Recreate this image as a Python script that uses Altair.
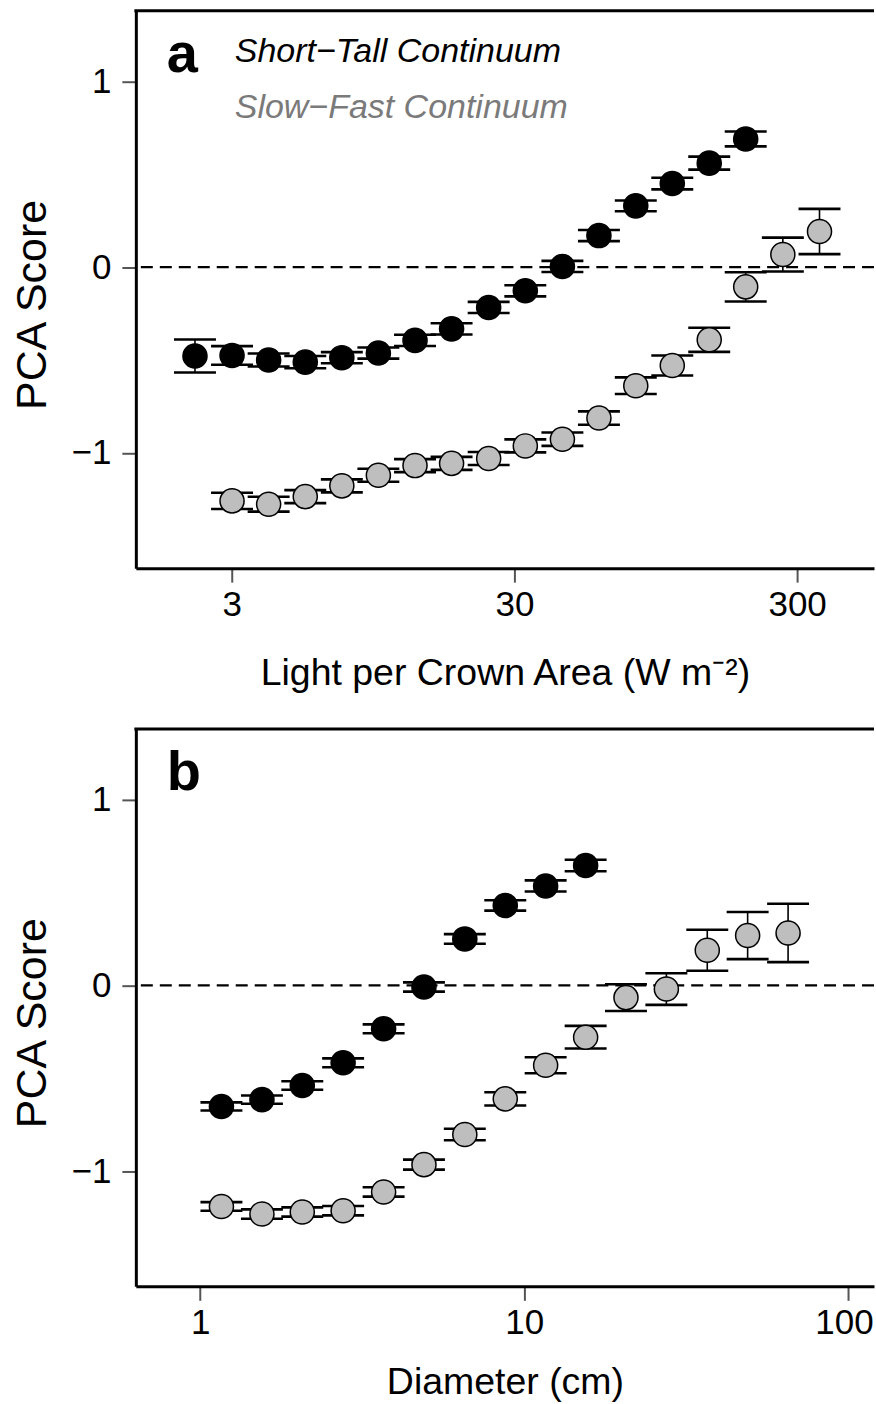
import altair as alt
import pandas as pd

# ---------------- Panel a : Light per Crown Area ----------------
a_x_black = [2.224, 3.008, 4.052, 5.461, 7.355, 9.904, 13.35, 17.98, 24.32, 32.78,
             44.34, 59.70, 80.60, 108.5, 146.6, 197.3]
a_y_black = [-0.478, -0.475, -0.500, -0.511, -0.487, -0.462, -0.394, -0.332, -0.217, -0.127,
             0.004, 0.170, 0.330, 0.450, 0.560, 0.690]
a_e_black = [0.089, 0.050, 0.035, 0.033, 0.030, 0.030, 0.030, 0.030, 0.030, 0.030,
             0.030, 0.030, 0.029, 0.031, 0.035, 0.040]

a_x_gray = [3.008, 4.052, 5.461, 7.355, 9.904, 13.35, 17.98, 24.32, 32.78, 44.34,
            59.70, 80.60, 108.5, 146.6, 197.3, 267.0, 359.9]
a_y_gray = [-1.258, -1.276, -1.235, -1.177, -1.120, -1.068, -1.056, -1.030, -0.962, -0.926,
            -0.812, -0.638, -0.529, -0.391, -0.106, 0.068, 0.192]
a_e_gray = [0.044, 0.040, 0.035, 0.035, 0.035, 0.035, 0.035, 0.035, 0.035, 0.036,
            0.036, 0.045, 0.054, 0.065, 0.079, 0.091, 0.122]

# ---------------- Panel b : Diameter ----------------
b_x_black = [1.163, 1.551, 2.066, 2.762, 3.683, 4.906, 6.559, 8.744, 11.65, 15.48]
b_y_black = [-0.652, -0.615, -0.539, -0.417, -0.234, -0.009, 0.250, 0.430, 0.535, 0.645]
b_e_black = [0.022, 0.022, 0.023, 0.024, 0.024, 0.025, 0.026, 0.028, 0.030, 0.031]

b_x_gray = [1.163, 1.551, 2.066, 2.762, 3.683, 4.906, 6.559, 8.744, 11.65, 15.48,
            20.62, 27.48, 36.75, 48.96, 65.27]
b_y_gray = [-1.190, -1.231, -1.220, -1.213, -1.112, -0.965, -0.803, -0.611, -0.430, -0.279,
            -0.066, -0.020, 0.189, 0.268, 0.282]
b_e_gray = [0.023, 0.025, 0.025, 0.025, 0.025, 0.027, 0.031, 0.036, 0.043, 0.061,
            0.072, 0.085, 0.110, 0.127, 0.157]

series_names = ["Short\u2212Tall Continuum", "Slow\u2212Fast Continuum"]
fill_colors = ["#000000", "#bebebe"]

a_xticks = [3, 30, 300]
b_xticks = [1, 10, 100]
y_ticks = [-1, 0, 1]

FONT = "Liberation Sans"
W, H = 739, 558
YDOM = [-1.62, 1.38]


def make_df(xb, yb, eb, xg, yg, eg):
    d1 = pd.DataFrame({"x": xb, "y": yb, "err": eb, "series": series_names[0]})
    d2 = pd.DataFrame({"x": xg, "y": yg, "err": eg, "series": series_names[1]})
    return pd.concat([d1, d2], ignore_index=True)


df_a = make_df(a_x_black, a_y_black, a_e_black, a_x_gray, a_y_gray, a_e_gray)
df_b = make_df(b_x_black, b_y_black, b_e_black, b_x_gray, b_y_gray, b_e_gray)


def panel(df, xdom, xvals, xtitle, letter, title_pad, legend):
    xaxis = alt.Axis(values=xvals, format="d", title=xtitle, titlePadding=title_pad,
                     labelFlush=30, labelFlushOffset=25, grid=False)
    yaxis = alt.Axis(values=y_ticks, grid=False, title="PCA Score",
                     labelExpr="datum.value < 0 ? '\u2212' + format(-datum.value, 'd') : format(datum.value, 'd')",
                     titleY=H / 2 + 15)
    xsc = alt.Scale(type="log", domain=xdom, nice=False)
    ysc = alt.Scale(domain=YDOM, nice=False, zero=False)

    def X(f="x"):
        return alt.X(f + ":Q", scale=xsc, axis=xaxis)

    def Y(f):
        return alt.Y(f + ":Q", scale=ysc, axis=yaxis)

    base = alt.Chart(df).transform_calculate(
        lo="datum.y - datum.err", hi="datum.y + datum.err"
    )

    zero = alt.Chart(pd.DataFrame({"z": [0]})).mark_rule(
        color="black", strokeWidth=2.2, strokeDash=[12, 7]
    ).encode(y=alt.Y("z:Q", scale=ysc, axis=yaxis))

    stem = base.mark_rule(color="black", strokeWidth=1.6).encode(
        x=X(), y=Y("lo"), y2="hi:Q"
    )
    cap_lo = base.mark_tick(orient="horizontal", size=42, thickness=2.6, color="black",
                            opacity=1).encode(x=X(), y=Y("lo"))
    cap_hi = base.mark_tick(orient="horizontal", size=42, thickness=2.6, color="black",
                            opacity=1).encode(x=X(), y=Y("hi"))
    pts = base.mark_circle(size=580, opacity=1, stroke="black", strokeWidth=1.5).encode(
        x=X(), y=Y("y"),
        fill=alt.Fill("series:N", scale=alt.Scale(domain=series_names, range=fill_colors),
                      legend=None),
    )

    top = alt.Chart(pd.DataFrame({"t": [0]})).mark_rule(color="black", strokeWidth=3).encode(
        x=alt.value(-1.5), x2=alt.value(W), y=alt.value(0)
    )

    lab = alt.Chart(pd.DataFrame({"t": [letter]})).mark_text(
        font=FONT, fontSize=56, fontWeight="bold", align="left", baseline="alphabetic",
        color="black"
    ).encode(text="t:N", x=alt.value(31), y=alt.value(61))

    layers = [zero, stem, cap_lo, cap_hi, pts, top, lab]

    if legend:
        leg1 = alt.Chart(pd.DataFrame({"t": [series_names[0]]})).mark_text(
            font=FONT, fontSize=34, fontStyle="italic", align="left", baseline="alphabetic",
            color="black"
        ).encode(text="t:N", x=alt.value(99), y=alt.value(51))
        leg2 = alt.Chart(pd.DataFrame({"t": [series_names[1]]})).mark_text(
            font=FONT, fontSize=34, fontStyle="italic", align="left", baseline="alphabetic",
            color="#7a7a7a"
        ).encode(text="t:N", x=alt.value(99), y=alt.value(107))
        layers += [leg1, leg2]

    return alt.layer(*layers).properties(width=W, height=H)


pa = panel(df_a, [1.374, 561.0], a_xticks, "Light per Crown Area (W m\u207b\u00b2)", "a", 32, True)
pb = panel(df_b, [0.633, 120.2], b_xticks, "Diameter (cm)", "b", 23, False)

chart = alt.vconcat(pa, pb, spacing=35).properties(
    padding={"left": 11, "top": 8, "right": 0, "bottom": 0}
).configure_view(stroke=None).configure_axis(
    domainColor="black", domainWidth=3, tickColor="#555555", tickWidth=2, tickSize=14,
    labelFont=FONT, labelFontSize=35, labelColor="black", titleFont=FONT,
    titleFontWeight="normal", titleColor="black"
).configure_axisX(
    labelPadding=5, titleFontSize=37.5
).configure_axisY(
    labelPadding=11, titleFontSize=43, titlePadding=17
).configure_text(font=FONT)

chart.save("out.html", embed_options={"renderer": "svg", "actions": False})
